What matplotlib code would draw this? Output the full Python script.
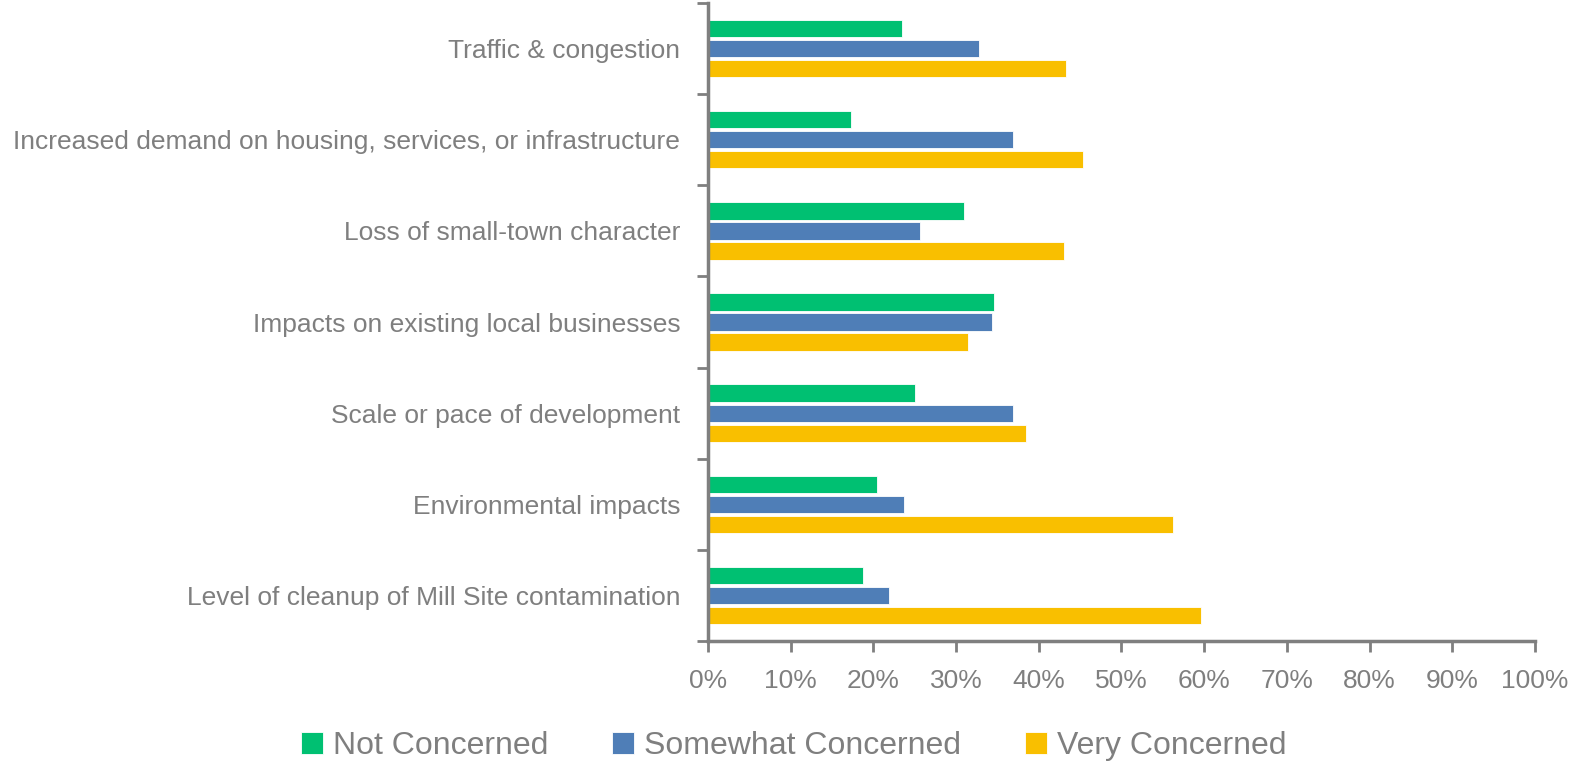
import numpy as np
import matplotlib.pyplot as plt
from matplotlib.ticker import FixedLocator, PercentFormatter

categories = [
    "Traffic & congestion",
    "Increased demand on housing, services, or infrastructure",
    "Loss of small-town character",
    "Impacts on existing local businesses",
    "Scale or pace of development",
    "Environmental impacts",
    "Level of cleanup of Mill Site contamination",
]
not_concerned = [23.5, 17.3, 31.0, 34.6, 25.0, 20.4, 18.8]
somewhat_concerned = [32.8, 36.9, 25.6, 34.3, 36.9, 23.7, 21.9]
very_concerned = [43.3, 45.4, 43.1, 31.4, 38.5, 56.2, 59.6]

series = [
    ("Not Concerned", not_concerned, "#00C072"),
    ("Somewhat Concerned", somewhat_concerned, "#4F7EB7"),
    ("Very Concerned", very_concerned, "#F9BF00"),
]

gray = "#7F7F7F"
plt.rcParams['font.family'] = ['Liberation Sans Narrow', 'Liberation Sans', 'DejaVu Sans']

fig = plt.figure(figsize=(15.71, 7.65), dpi=100)
ax = fig.add_axes([0.4507, 0.162, 0.5263, 0.834])

y = np.arange(len(categories))
h = 0.19
offsets = [-0.22, 0.0, 0.22]
for (name, vals, col), off in zip(series, offsets):
    ax.barh(y + off, vals, height=h, color=col, edgecolor="white",
            linewidth=0.6, label=name)

ax.set_xlim(0, 100)
ax.set_ylim(len(categories) - 0.5, -0.5)
ax.xaxis.set_major_locator(FixedLocator(np.arange(0, 101, 10)))
ax.xaxis.set_major_formatter(PercentFormatter(decimals=0))
ax.set_yticks(y)
ax.set_yticklabels(categories)
ax.yaxis.set_minor_locator(FixedLocator(np.arange(-0.5, len(categories), 1.0)))

for s in ["top", "right"]:
    ax.spines[s].set_visible(False)
for s in ["left", "bottom"]:
    ax.spines[s].set_color(gray)
    ax.spines[s].set_linewidth(2.5)

ax.tick_params(axis="y", which="major", length=0, pad=20, labelsize=19, labelcolor=gray)
ax.tick_params(axis="y", which="minor", length=8, width=2, color=gray, direction="out")
ax.tick_params(axis="x", which="major", length=8, width=2, color=gray, pad=12,
               labelsize=19, labelcolor=gray)

handles, labels = ax.get_legend_handles_labels()
leg = fig.legend(handles, labels, loc="center", bbox_to_anchor=(0.505, 0.025), ncol=3,
                 frameon=False, fontsize=23, handlelength=0.7, handleheight=0.7,
                 handletextpad=0.3, columnspacing=2.0, borderaxespad=0)
for t in leg.get_texts():
    t.set_color(gray)

fig.savefig("out.png", dpi=100)
